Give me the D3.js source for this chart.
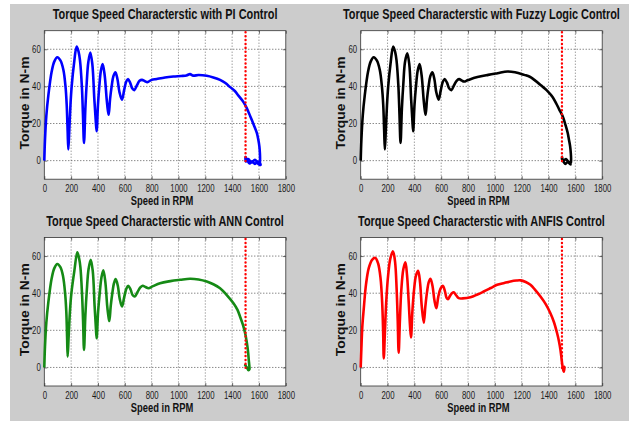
<!DOCTYPE html>
<html>
<head>
<meta charset="utf-8">
<script src="https://cdn.jsdelivr.net/npm/d3@7"></script>
<style>
body { margin: 0; background: #fff; }
svg { display: block; font-family: "Liberation Sans", Arial, sans-serif; }
</style>
</head>
<body>
<script>
var width = 634;
var height = 421;
var squeeze = 0.78;   // the source figure is squashed horizontally

// axis ticks
var xTicks = [0, 200, 400, 600, 800, 1000, 1200, 1400, 1600, 1800];
var yTicks = [0, 20, 40, 60];
var xDomain = [0, 1800];
var yDomain = [-10, 70];

// rated speed marker (red dotted line)
var refSpeed = 1500;
var refTorque = [-1, 70];

var titles = [
  "Torque Speed Characterstic with PI Control",
  "Torque Speed Characterstic with Fuzzy Logic Control",
  "Torque Speed Characterstic with ANN Control",
  "Torque Speed Characterstic with ANFIS Control"
];
var colors = ["#0000ff", "#000000", "#158a15", "#ff0000"];

// PI control
var piSpeed = [0, 5, 15, 30, 55, 75, 97, 120, 142, 158, 167, 174, 179, 186, 195, 204, 221, 241, 256, 266, 280, 288, 296, 306, 316, 328, 343, 358, 373, 383, 390, 400, 410, 422, 435, 450, 465, 474, 480, 490, 502, 515, 530, 545, 560, 579, 595, 610, 624, 640, 655, 671, 690, 710, 728, 750, 768, 800, 838, 900, 962, 1020, 1060, 1086, 1110, 1150, 1211, 1260, 1310, 1350, 1385, 1420, 1447, 1475, 1497, 1520, 1546, 1565, 1584, 1596, 1603, 1607, 1608, 1605, 1590, 1570, 1550, 1530, 1510, 1500, 1503, 1520, 1545, 1570, 1595, 1612, 1600, 1580];
var piTorque = [0, 11, 24, 35, 48, 53.5, 55.7, 54, 49, 40, 30, 16, 6, 16, 30, 40, 52, 61.4, 58.5, 54, 40, 25, 9.5, 28, 41.7, 53, 58.2, 52, 33, 22, 15.8, 30, 40, 48.5, 52, 46, 33, 27, 24.7, 33, 40, 45.5, 47.6, 44, 37, 32.8, 38, 42.5, 44, 42, 39, 38, 40.5, 43, 43.5, 42.8, 42.3, 43.5, 44, 44.8, 45.3, 45.6, 45.9, 46.6, 45.8, 46.1, 45.7, 44.8, 43.5, 41.8, 39.6, 37.5, 35, 32.5, 30, 26.5, 22, 18.5, 14.9, 11, 7.7, 4, 0.5, -1.5, -0.5, -1.8, -0.3, -1.5, 0.5, 2, -0.5, 0.8, -1, 0.5, -1.8, -2.3, -0.5, -1.5];

// Fuzzy logic control
var fuzzySpeed = [0, 5, 15, 30, 55, 75, 97, 120, 142, 158, 168, 175, 180, 187, 196, 205, 222, 242, 257, 267, 281, 289, 297, 307, 318, 330, 347, 362, 376, 385, 391, 401, 412, 425, 439, 454, 469, 478, 484, 494, 506, 519, 534, 549, 563, 581, 597, 612, 626, 643, 659, 676, 695, 715, 733, 752, 770, 800, 870, 950, 1020, 1094, 1150, 1219, 1260, 1294, 1340, 1394, 1430, 1456, 1480, 1506, 1525, 1543, 1553, 1561, 1566, 1568, 1565, 1545, 1525, 1505, 1500, 1505, 1530, 1555, 1565, 1550];
var fuzzyTorque = [0, 11, 24, 35, 48, 53.5, 55.7, 54, 49, 40, 30, 16, 6, 16, 30, 40, 52, 61.4, 58.5, 54, 40, 25, 9.5, 28, 41.7, 53, 57.8, 52, 33, 22, 15.8, 30, 40, 48.5, 52, 46, 33, 27, 24.7, 33, 40, 45.5, 47.6, 44, 37, 32.8, 38, 42.5, 44, 42, 39, 38, 40.5, 43, 43.9, 43.2, 42.6, 43.4, 45, 46.2, 47.1, 48, 47.6, 46.2, 45.2, 43.5, 40.8, 37.3, 34.3, 31, 27.5, 23.8, 19.5, 14.9, 11, 7.7, 4, 0.5, -1.5, -0.5, -1.8, 0.5, 2, -0.3, 0.8, -1.5, -2, -1];

// ANN control
var annSpeed = [0, 5, 15, 30, 55, 75, 97, 120, 140, 155, 164, 170, 174, 181, 191, 202, 224, 246, 260, 269, 281, 289, 296, 306, 317, 330, 346, 361, 375, 384, 390, 401, 413, 426, 440, 455, 469, 479, 485, 495, 507, 520, 532, 548, 562, 579, 596, 612, 626, 643, 658, 674, 694, 714, 733, 755, 776, 810, 863, 940, 1012, 1086, 1150, 1211, 1260, 1310, 1360, 1410, 1440, 1459, 1480, 1497, 1507, 1514, 1520, 1524, 1528, 1529, 1522, 1510, 1497, 1505];
var annTorque = [0, 11, 24, 35, 48, 53.5, 55.7, 54, 49, 40, 30, 16, 5.8, 16, 30, 40, 52, 62, 58.5, 54, 40, 25, 9.4, 28, 41.7, 53, 58, 52, 33, 22, 15.7, 30, 40, 48.5, 52.3, 46, 33, 27, 25, 33, 40, 45.5, 47.6, 44, 37, 32.8, 38, 42.5, 44, 42, 39, 38.2, 40.5, 43, 44, 43.3, 42.7, 43.8, 45.4, 46.5, 47.2, 47.8, 47.4, 46.3, 44.8, 42.7, 39, 34.6, 31, 27.4, 23, 18.4, 14.5, 11.2, 7.5, 4, 1, -1, -1.5, 0, 1.3, 0.5];

// ANFIS control
var anfisSpeed = [0, 5, 12, 22, 40, 60, 85, 109, 130, 148, 160, 167, 172, 180, 190, 205, 222, 241, 256, 268, 276, 283, 292, 303, 318, 333, 345, 358, 368, 375, 385, 398, 412, 428, 442, 455, 470, 482, 495, 507, 520, 535, 550, 564, 578, 595, 612, 628, 640, 651, 665, 680, 694, 710, 731, 760, 818, 870, 917, 970, 1017, 1070, 1116, 1160, 1191, 1230, 1265, 1300, 1340, 1380, 1414, 1440, 1464, 1478, 1489, 1495, 1501, 1507, 1514, 1519, 1512, 1505];
var anfisTorque = [0, 10, 22, 31, 45, 53.5, 58, 59, 56, 48, 35, 20, 4.9, 18, 35, 50, 59, 62.5, 57, 42, 25, 7.9, 25, 42, 53, 56.6, 50, 35, 22, 16.2, 30, 42, 49.5, 52, 46, 33, 24.1, 33, 41, 46, 47.8, 44, 36, 31.9, 38, 42.5, 44, 41, 37.5, 36.8, 38.5, 40, 40.5, 39, 37.3, 37.2, 37.8, 39.3, 40.9, 42.8, 44.5, 45.5, 46.3, 46.8, 46.9, 46, 44.5, 41.8, 38.2, 34, 29.2, 24.5, 18.4, 14, 9.4, 6, 2.2, -0.5, -2.3, 0.4, -1.5, 0];

// panel layout: plot boxes in the 2x2 grid
var colLeft = [44.3, 360.7];
var rowTop = [30.7, 237.5];
var plotW = 241.5;
var plotH = 148.5;

var panels = [
  { speed: piSpeed, torque: piTorque, col: 0, row: 0 },
  { speed: fuzzySpeed, torque: fuzzyTorque, col: 1, row: 0 },
  { speed: annSpeed, torque: annTorque, col: 0, row: 1 },
  { speed: anfisSpeed, torque: anfisTorque, col: 1, row: 1 }
];

var svg = d3.select("body")
  .append("svg")
  .attr("width", width)
  .attr("height", height);

// grey figure background
svg.append("rect")
  .attr("x", 10).attr("y", 4)
  .attr("width", 619).attr("height", height - 4)
  .attr("fill", "#cccccc");

// horizontal text, squashed like the source image
function hText(g, x, y, size, str) {
  return g.append("text")
    .attr("transform", "translate(" + x + "," + y + ") scale(" + squeeze + ",1)")
    .attr("text-anchor", "middle")
    .attr("font-size", size)
    .attr("font-weight", "bold")
    .attr("fill", "#111")
    .text(str);
}

panels.forEach(function(p, i) {
  var left = colLeft[p.col];
  var top = rowTop[p.row];

  var xScale = d3.scaleLinear().domain(xDomain).range([left, left + plotW]);
  var yScale = d3.scaleLinear().domain(yDomain).range([top + plotH, top]);

  var g = svg.append("g");

  // plot box
  g.append("rect")
    .attr("x", left).attr("y", top)
    .attr("width", plotW).attr("height", plotH)
    .attr("fill", "#fff");

  // dotted grid
  g.selectAll(".vgrid")
    .data(xTicks.slice(1, -1))
    .enter()
    .append("line")
    .attr("x1", function(d) { return xScale(d); })
    .attr("x2", function(d) { return xScale(d); })
    .attr("y1", top).attr("y2", top + plotH)
    .attr("stroke", "#666")
    .attr("stroke-width", 0.9)
    .attr("stroke-dasharray", "1,2");

  g.selectAll(".hgrid")
    .data(yTicks)
    .enter()
    .append("line")
    .attr("x1", left).attr("x2", left + plotW)
    .attr("y1", function(d) { return yScale(d); })
    .attr("y2", function(d) { return yScale(d); })
    .attr("stroke", "#444")
    .attr("stroke-width", 0.9)
    .attr("stroke-dasharray", "1,2");

  // axes with inward ticks
  var xAxis = d3.axisBottom(xScale).tickValues(xTicks).tickSize(-3).tickPadding(6)
    .tickFormat(d3.format("d"));
  var yAxis = d3.axisLeft(yScale).tickValues(yTicks).tickSize(-3).tickPadding(4.5)
    .tickFormat(d3.format("d"));

  g.append("g")
    .attr("transform", "translate(0," + (top + plotH) + ")")
    .call(xAxis);
  g.append("g")
    .attr("transform", "translate(" + left + ",0)")
    .call(yAxis);
  g.append("g")
    .attr("transform", "translate(0," + top + ")")
    .call(d3.axisTop(xScale).tickValues(xTicks).tickSize(-3).tickFormat(""));
  g.append("g")
    .attr("transform", "translate(" + (left + plotW) + ",0)")
    .call(d3.axisRight(yScale).tickValues(yTicks).tickSize(-3).tickFormat(""));

  g.selectAll(".domain").remove();
  g.selectAll(".tick line").attr("stroke", "#333").attr("stroke-width", 0.7);
  g.selectAll(".tick text")
    .attr("font-size", "10px")
    .attr("font-family", "Liberation Sans, Arial, sans-serif")
    .attr("fill", "#1a1a1a")
    .attr("transform", "scale(" + squeeze + ",1)");

  // frame
  g.append("rect")
    .attr("x", left).attr("y", top)
    .attr("width", plotW).attr("height", plotH)
    .attr("fill", "none")
    .attr("stroke", "#333")
    .attr("stroke-width", 0.8);

  // torque-speed curve
  var pts = p.speed.map(function(s, k) { return [s, p.torque[k]]; });
  var line = d3.line()
    .x(function(d) { return xScale(d[0]); })
    .y(function(d) { return yScale(d[1]); })
    .curve(d3.curveCatmullRom.alpha(0.5));

  g.append("path")
    .datum(pts)
    .attr("d", line)
    .attr("fill", "none")
    .attr("stroke", colors[i])
    .attr("stroke-width", 2.6)
    .attr("stroke-linejoin", "round");

  // rated speed marker
  g.append("line")
    .attr("x1", xScale(refSpeed)).attr("x2", xScale(refSpeed))
    .attr("y1", yScale(refTorque[1]) + 1.5).attr("y2", yScale(refTorque[0]))
    .attr("stroke", "#ff0000")
    .attr("stroke-width", 2.4)
    .attr("stroke-linecap", "round")
    .attr("stroke-dasharray", "0.1,3.8");

  // title and axis labels
  hText(g, left + plotW / 2, top - 11.5, "14px", titles[i]);
  hText(g, left + plotW / 2 - 3, top + plotH + 25.5, "12px", "Speed in RPM");

  g.append("text")
    .attr("transform", "translate(" + (left - 15.5) + "," + (top + plotH / 2 - 2) + ") rotate(-90)")
    .attr("text-anchor", "middle")
    .attr("font-size", "12.5px")
    .attr("font-weight", "bold")
    .attr("fill", "#111")
    .attr("textLength", 93)
    .attr("lengthAdjust", "spacingAndGlyphs")
    .text("Torque in N-m");
});
</script>
</body>
</html>
